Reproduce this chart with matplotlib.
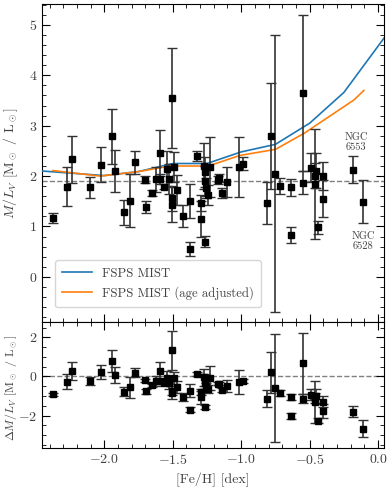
import matplotlib
matplotlib.use("Agg")
import matplotlib.pyplot as plt
import numpy as np
from matplotlib.ticker import MultipleLocator

plt.rcParams['font.family'] = 'serif'
plt.rcParams['font.serif'] = ['cmr10', 'DejaVu Serif']
plt.rcParams['mathtext.fontset'] = 'cm'
plt.rcParams['axes.formatter.use_mathtext'] = True
plt.rcParams['axes.unicode_minus'] = True

# Data: [Fe/H], M/L_V, error, Delta M/L_V
feh = [-2.375, -2.273, -2.234, -2.102, -2.024, -1.944, -1.924, -1.854, -1.812, -1.773,
       -1.704, -1.695, -1.651, -1.624, -1.594, -1.594, -1.563, -1.541, -1.524, -1.502,
       -1.502, -1.502, -1.492, -1.470, -1.424, -1.373, -1.373, -1.321, -1.297, -1.292,
       -1.275, -1.265, -1.265, -1.261, -1.255, -1.243, -1.231, -1.173, -1.163, -1.138,
       -1.100, -1.016, -0.990, -0.811, -0.780, -0.750, -0.719, -0.638, -0.638, -0.550,
       -0.550, -0.489, -0.458, -0.453, -0.458, -0.441, -0.401, -0.401, -0.182, -0.111]
ml = [1.17, 1.79, 2.33, 1.78, 2.23, 2.79, 2.10, 1.28, 1.51, 2.27,
      1.93, 1.38, 1.67, 1.94, 1.94, 2.46, 1.79, 2.15, 1.94, 3.55,
      1.56, 1.43, 2.18, 1.73, 1.21, 1.50, 0.56, 2.39, 1.47, 1.15,
      2.20, 2.08, 1.91, 0.70, 1.77, 1.63, 2.18, 1.93, 1.97, 1.66,
      1.89, 2.18, 2.25, 1.47, 2.80, 2.05, 1.81, 1.78, 0.83, 3.65,
      1.87, 2.17, 2.01, 2.11, 1.84, 0.98, 2.00, 1.55, 2.13, 1.49]
err = [0.10, 0.39, 0.46, 0.21, 0.35, 0.55, 0.42, 0.25, 0.53, 0.23,
       0.07, 0.12, 0.06, 0.25, 0.10, 0.45, 0.05, 0.35, 0.30, 1.00,
       0.25, 0.35, 0.30, 0.30, 0.22, 0.34, 0.14, 0.10, 0.16, 0.35,
       0.45, 0.30, 0.30, 0.11, 0.20, 0.20, 0.60, 0.08, 0.08, 0.10,
       0.30, 0.60, 0.12, 0.42, 1.05, 2.75, 0.16, 0.17, 0.15, 1.55,
       0.23, 0.29, 0.25, 0.35, 1.09, 0.12, 0.28, 0.37, 0.27, 0.43]
dml = [-0.92, -0.27, 0.29, -0.24, 0.24, 0.79, 0.09, -0.77, -0.56, 0.19,
       -0.19, -0.75, -0.46, -0.22, -0.22, 0.29, -0.32, -0.08, -0.33, 1.35,
       -0.72, -0.82, -0.08, -0.53, -1.04, -0.73, -1.69, 0.15, -0.78, -1.07,
       -0.05, -0.17, -0.34, -1.55, -0.52, -0.64, -0.08, -0.36, -0.36, -0.68,
       -0.49, -0.28, -0.23, -1.13, 0.21, -0.60, -0.85, -1.05, -2.01, 0.67,
       -1.13, -0.93, -1.10, -1.00, -1.30, -2.25, -1.30, -1.77, -1.79, -2.67]

# Model curves
mist_feh = [-2.5, -2.0, -1.75, -1.5, -1.25, -1.0, -0.75, -0.5, -0.25, 0.0, 0.25]
mist_ml = [2.11, 2.01, 2.09, 2.25, 2.25, 2.48, 2.63, 3.05, 3.66, 4.58, 5.50]
age_feh = [-2.375, -2.03, -1.75, -1.52, -1.24, -1.01, -0.75, -0.54, -0.177, -0.104]
age_ml = [2.11, 2.00, 2.09, 2.20, 2.20, 2.41, 2.53, 2.85, 3.51, 3.70]

ref_ml = 1.9
txt_color = '0.25'

fig = plt.figure(figsize=(3.91, 4.87), dpi=100)
ax1 = fig.add_axes([0.1074, 0.3394, 0.875, 0.6518])
ax2 = fig.add_axes([0.1074, 0.0795, 0.875, 0.2599], sharex=ax1)

ax1.axhline(ref_ml, color='0.5', ls='--', lw=1.0, zorder=1)
ax1.plot(mist_feh, mist_ml, color='C0', lw=1.2, label='FSPS MIST', zorder=3)
ax1.plot(age_feh, age_ml, color='C1', lw=1.2, label='FSPS MIST (age adjusted)', zorder=3)
ax1.errorbar(feh, ml, yerr=err, fmt='s', color='k', ms=4.3, ecolor='0.2',
             elinewidth=1.2, capsize=3.3, capthick=1.0, zorder=4)
ax1.text(-0.16, 2.67, 'NGC\n6553', ha='center', va='center', fontsize=7.5,
         linespacing=1.0, color=txt_color)
ax1.text(-0.107, 0.71, 'NGC\n6528', ha='center', va='center', fontsize=7.5,
         linespacing=1.0, color=txt_color)
leg = ax1.legend(loc='lower left', bbox_to_anchor=(0.02, 0.025), fontsize=9.2,
                 frameon=True, handlelength=2.3, labelspacing=0.55, borderpad=0.55,
                 labelcolor=txt_color)

ax2.axhline(0, color='0.5', ls='--', lw=1.0, zorder=1)
ax2.errorbar(feh, dml, yerr=err, fmt='s', color='k', ms=4.3, ecolor='0.2',
             elinewidth=1.2, capsize=3.3, capthick=1.0, zorder=4)

ax1.set_xlim(-2.455, 0.044)
ax1.set_ylim(-0.89, 5.41)
ax2.set_ylim(-3.67, 2.8)

ax1.set_ylabel(r'$M/L_V$ [M$_\odot$ / L$_\odot$]', fontsize=10, color=txt_color)
ax2.set_ylabel(r'$\Delta M/L_V$ [M$_\odot$ / L$_\odot$]', fontsize=8.6, color=txt_color)
ax2.set_xlabel('[Fe/H] [dex]', fontsize=10, color=txt_color)
ax1.yaxis.set_label_coords(-0.063, 0.5)
ax2.yaxis.set_label_coords(-0.068, 0.48)

for ax in (ax1, ax2):
    ax.xaxis.set_major_locator(MultipleLocator(0.5))
    ax.xaxis.set_minor_locator(MultipleLocator(0.1))
    ax.tick_params(which='both', direction='in', top=True, right=True, labelsize=10,
                   labelcolor=txt_color)
    ax.tick_params(which='major', length=6)
    ax.tick_params(which='minor', length=3)
ax1.yaxis.set_major_locator(MultipleLocator(1))
ax1.yaxis.set_minor_locator(MultipleLocator(0.2))
ax2.yaxis.set_major_locator(MultipleLocator(2))
ax2.yaxis.set_minor_locator(MultipleLocator(0.5))
plt.setp(ax1.get_xticklabels(), visible=False)

fig.savefig('out.png', dpi=100)
